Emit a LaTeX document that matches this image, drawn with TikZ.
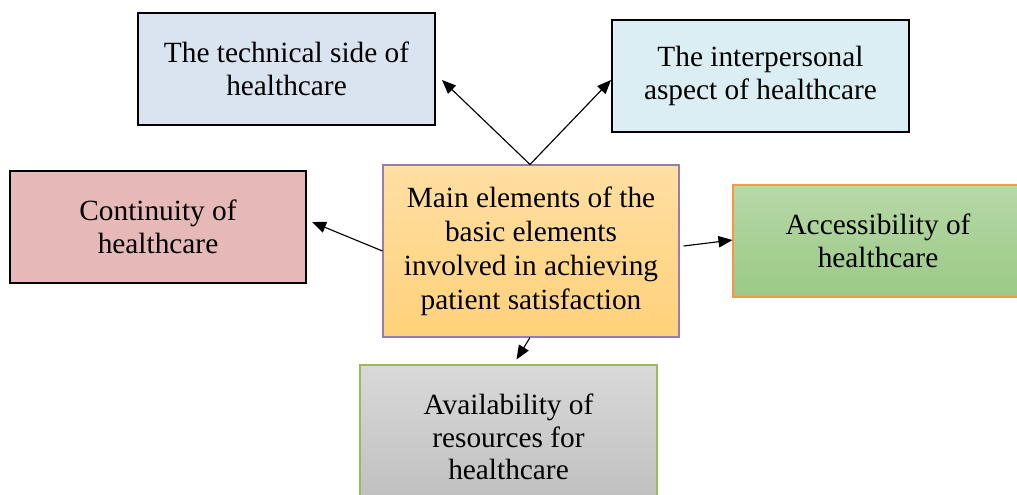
\documentclass[tikz,border=0pt]{standalone}
\usepackage{fontspec}
\setmainfont{Liberation Serif}
\usetikzlibrary{calc,arrows.meta}
\definecolor{techfill}{RGB}{218,227,240}
\definecolor{interfill}{RGB}{218,238,243}
\definecolor{contfill}{RGB}{230,184,183}
\definecolor{maintop}{RGB}{255,223,163}
\definecolor{mainbot}{RGB}{255,209,122}
\definecolor{mainedge}{RGB}{150,125,175}
\definecolor{acctop}{RGB}{183,216,168}
\definecolor{accbot}{RGB}{155,201,133}
\definecolor{accedge}{RGB}{247,150,70}
\definecolor{availtop}{RGB}{217,217,217}
\definecolor{availbot}{RGB}{190,190,190}
\definecolor{availedge}{RGB}{155,187,89}
\tikzset{
  box/.style={rectangle, align=center, inner sep=0pt,
    font=\fontsize{22pt}{24.5pt}\selectfont},
  darkbox/.style={box, draw=black, line width=1.5pt},
  link/.style={draw=black, line width=0.85pt, -{Triangle[length=10.5pt,width=8.5pt]}}
}
\begin{document}
\begin{tikzpicture}[x=0.75pt,y=-0.75pt]
\useasboundingbox (0,0) rectangle (1017,494);
% outer items
\node[darkbox, fill=techfill, minimum width=297*0.75pt, minimum height=112*0.75pt]
  (tech) at (286.5,69) {The technical side of\\healthcare};
\node[darkbox, fill=interfill, minimum width=297*0.75pt, minimum height=112*0.75pt]
  (inter) at (760.5,76) {The interpersonal\\aspect of healthcare};
\node[darkbox, fill=contfill, minimum width=296*0.75pt, minimum height=112*0.75pt]
  (cont) at (158,227) {Continuity of\\healthcare};
\node[box, draw=accedge, line width=0.8pt, top color=acctop, bottom color=accbot,
  minimum width=290*0.75pt, minimum height=112*0.75pt]
  (acc) at (878,241) {Accessibility of\\healthcare};
\node[box, draw=availedge, line width=0.8pt, top color=availtop, bottom color=availbot,
  minimum width=297*0.75pt, minimum height=144*0.75pt]
  (avail) at (508.5,437) {Availability of\\resources for\\healthcare};
% central item
\node[box, draw=mainedge, line width=0.8pt, top color=maintop, bottom color=mainbot,
  minimum width=296*0.75pt, minimum height=172*0.75pt,
  font=\fontsize{22pt}{25.5pt}\selectfont]
  (main) at (531,251) {Main elements of the\\basic elements\\involved in achieving\\patient satisfaction};
% connectors
\draw[link] ($(main.north)+(-1,0)$) -- ($(tech.east)+(6,11)$);
\draw[link] ($(main.north)+(-1,0)$) -- ($(inter.west)+(0,4)$);
\draw[link] (main.west) -- ($(cont.east)+(5,-5)$);
\draw[link] ($(main.east)+(4,-5)$) -- ($(acc.west)+(0,-1)$);
\draw[link] ($(main.south)+(-1,0)$) -- ($(avail.north)+(8,-5)$);
\end{tikzpicture}
\end{document}
